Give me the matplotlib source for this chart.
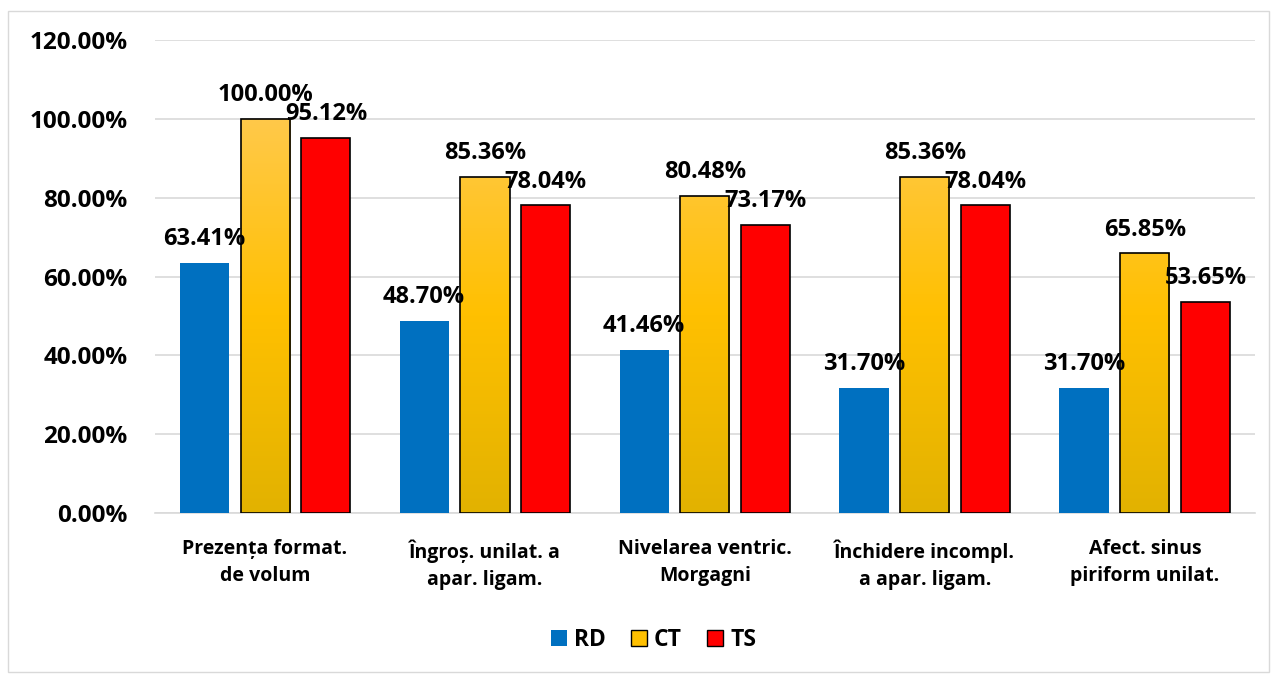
import numpy as np
import matplotlib.pyplot as plt
from matplotlib.patches import Rectangle, Patch
from matplotlib.colors import LinearSegmentedColormap

plt.rcParams['font.family'] = ['Open Sans', 'DejaVu Sans']
plt.rcParams['font.weight'] = 'bold'

categories = ["Prezența format.\nde volum", "Îngroș. unilat. a\napar. ligam.",
              "Nivelarea ventric.\nMorgagni", "Închidere incompl.\na apar. ligam.",
              "Afect. sinus\npiriform unilat."]
rd = [63.41, 48.70, 41.46, 31.70, 31.70]
ct = [100.00, 85.36, 80.48, 85.36, 65.85]
ts = [95.12, 78.04, 73.17, 78.04, 53.65]
series_names = ["RD", "CT", "TS"]

fig = plt.figure(figsize=(12.74, 6.75), dpi=100)
ax = fig.add_axes([0.1217, 0.24, 0.8633, 0.7007])

# light frame around the chart area
fig.patches.append(Rectangle((0.006, 0.004), 0.99, 0.98, transform=fig.transFigure,
                             fill=False, edgecolor='#D9D9D9', linewidth=1))

x = np.arange(len(categories))
w = 0.223
step = 0.277

b_rd = ax.bar(x - step, rd, w, color='#0070C0', zorder=3)
b_ct = ax.bar(x, ct, w, color='none', edgecolor='black', linewidth=1.2, zorder=4)
b_ts = ax.bar(x + step, ts, w, color='#FF0000', edgecolor='black', linewidth=1.2, zorder=3)

# gradient fill for CT bars
cmap = LinearSegmentedColormap.from_list('gold', ['#E2B200', '#FFC000', '#FFC94A'])
grad = np.linspace(0, 1, 256).reshape(-1, 1)
for bar in b_ct:
    x0, y0 = bar.get_x(), bar.get_y()
    im = ax.imshow(grad, cmap=cmap, origin='lower', aspect='auto',
                   extent=[x0, x0 + bar.get_width(), 0, 100], zorder=3)
    clip = Rectangle((x0, y0), bar.get_width(), bar.get_height(), transform=ax.transData)
    im.set_clip_path(clip)

for bars, vals in [(b_rd, rd), (b_ct, ct), (b_ts, ts)]:
    for bar, v in zip(bars, vals):
        ax.text(bar.get_x() + bar.get_width() / 2, v + 3.0, "%.2f%%" % v,
                ha='center', va='bottom', fontsize=17, fontweight='bold', zorder=6)

ax.set_xlim(-0.5, len(categories) - 0.5)
ax.set_ylim(0, 120)
ax.set_yticks(np.arange(0, 121, 20))
ax.set_yticklabels(["%.2f%%" % t for t in np.arange(0, 121, 20)], fontsize=17.5, fontweight='bold')
ax.set_xticks(x)
ax.set_xticklabels(categories, fontsize=14, fontweight='bold', linespacing=1.45)
ax.tick_params(axis='both', length=0)
ax.tick_params(axis='y', pad=20)
ax.tick_params(axis='x', pad=19)
ax.grid(axis='y', color='#D9D9D9', linewidth=1.2, zorder=0)
for s in ['top', 'right', 'left']:
    ax.spines[s].set_visible(False)
ax.spines['bottom'].set_color('#D9D9D9')
ax.spines['bottom'].set_linewidth(1.2)

handles = [Patch(facecolor='#0070C0', edgecolor='none'),
           Patch(facecolor='#FFC000', edgecolor='black'),
           Patch(facecolor='#FF0000', edgecolor='black')]
fig.legend(handles, series_names, loc='center', bbox_to_anchor=(0.513, 0.052), ncol=3,
           frameon=False, prop={'size': 16.5, 'weight': 'bold'},
           handlelength=0.7, handleheight=0.7, handletextpad=0.3, columnspacing=1.1)

fig.savefig("out.png", dpi=100)
